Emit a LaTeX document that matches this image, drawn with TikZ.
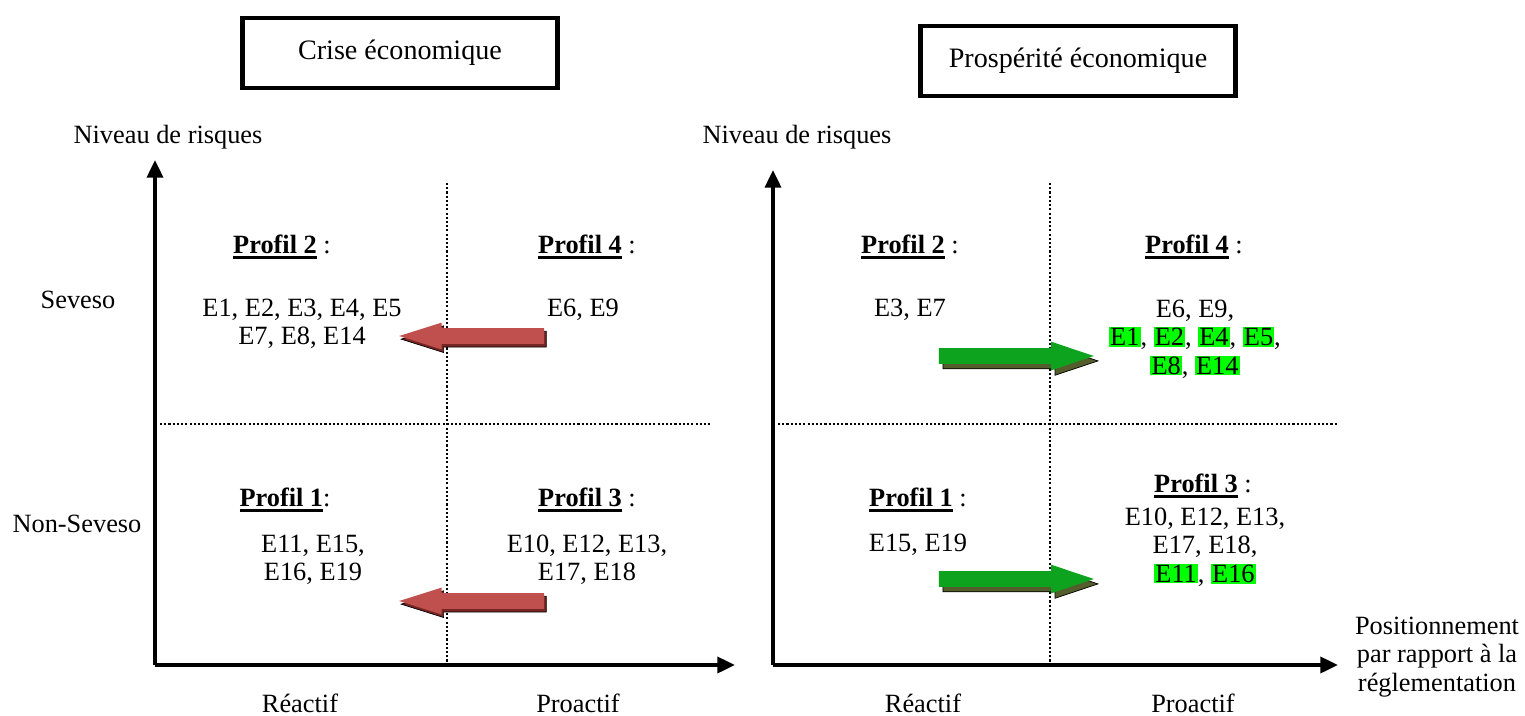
\documentclass[tikz,border=0pt]{standalone}
\usepackage{fontspec}
\setmainfont{Liberation Serif}
\usetikzlibrary{arrows.meta,shapes.arrows,shadows}

\definecolor{crisered}{RGB}{192,80,77}
\definecolor{criseshadow}{RGB}{120,38,36}
\definecolor{prosgreen}{RGB}{14,163,30}
\definecolor{prosshadow}{RGB}{84,94,44}
\definecolor{hlgreen}{RGB}{0,255,0}

\newcommand{\profil}[1]{\setbox0\hbox{\textbf{#1}}\rlap{\rule[-3pt]{\wd0}{1.4pt}}\box0\relax}
\newcommand{\hlE}[1]{{\setlength{\fboxsep}{0.6pt}\colorbox{hlgreen}{#1}}}

\begin{document}
\begin{tikzpicture}[x=0.02cm, y=-0.02cm, font=\fontsize{15}{16.2}\selectfont,
  titlebox/.style={draw, line width=2.8pt, minimum width=6.3cm, minimum height=1.4cm, font=\fontsize{16}{19}\selectfont},
  axis/.style={line width=2.2pt, -{Triangle[length=10pt,width=9pt]}},
  divider/.style={line width=1.2pt, dash pattern=on 1.2pt off 1.2pt},
  redarrow/.style={single arrow, fill=crisered, inner xsep=0pt, inner ysep=0.15cm, minimum height=2.9cm,
    single arrow head extend=0.11cm, single arrow tip angle=35, shape border rotate=180, anchor=tip,
    copy shadow={fill=criseshadow, shadow xshift=1.2pt, shadow yshift=-1.8pt}},
  greenarrow/.style={single arrow, fill=prosgreen, inner xsep=0pt, inner ysep=0.15cm, minimum height=3.1cm,
    single arrow head extend=0.13cm, single arrow tip angle=37, anchor=tip,
    copy shadow={fill=prosshadow, shadow xshift=2.3pt, shadow yshift=-2.8pt}}]

\useasboundingbox (0,0) rectangle (1525,716);

\node[titlebox] (crise) at (400,53) {Crise économique};
\node[titlebox] (prosp) at (1078,61) {Prospérité économique};


\coordinate (o1) at (155,665);
\coordinate (ytop1) at (155,160);
\coordinate (xend1) at (735,665);
\draw[axis] (o1) -- (ytop1);
\draw[axis] (o1) -- (xend1);
\coordinate (vtop1) at (447,183);
\coordinate (vbot1) at (447,665);
\coordinate (hleft1) at (160,424);
\coordinate (hright1) at (710,424);
\draw[divider] (vtop1) -- (vbot1);
\draw[divider] (hleft1) -- (hright1);

\node (niv1) at (168,137) {Niveau de risques};
\node (seveso) at (78,300) {Seveso};
\node (nonsev) at (77,524) {Non-Seveso};
\node (react1) at (300,703) {Réactif};
\node (proact1) at (578,703) {Proactif};

\node (p2g) at (282,247) {\profil{Profil 2} :};
\node[align=center] (e2g) at (302,324) {E1, E2, E3, E4, E5\\E7, E8, E14};
\node (p4g) at (587,247) {\profil{Profil 4} :};
\node (e4g) at (583,310) {E6, E9};
\node (p1g) at (285,500) {\profil{Profil 1}:};
\node[align=center] (e1g) at (313,560) {E11, E15,\\E16, E19};
\node (p3g) at (587,500) {\profil{Profil 3} :};
\node[align=center] (e3g) at (587,560) {E10, E12, E13,\\E17, E18};

\node[redarrow] (flee1) at (398,336) {};
\node[redarrow] (flee2) at (398,601) {};


\coordinate (o2) at (773,665);
\coordinate (ytop2) at (773,170);
\coordinate (xend2) at (1338,665);
\draw[axis] (o2) -- (ytop2);
\draw[axis] (o2) -- (xend2);
\coordinate (vtop2) at (1050,183);
\coordinate (vbot2) at (1050,665);
\coordinate (hleft2) at (778,424);
\coordinate (hright2) at (1338,424);
\draw[divider] (vtop2) -- (vbot2);
\draw[divider] (hleft2) -- (hright2);

\node (niv2) at (797,137) {Niveau de risques};
\node (react2) at (923,703) {Réactif};
\node (proact2) at (1193,703) {Proactif};
\node[align=center] (posit) at (1437,657) {Positionnement\\par rapport à la\\réglementation};

\node (p2d) at (910,247) {\profil{Profil 2} :};
\node (e2d) at (910,310) {E3, E7};
\node (p4d) at (1194,247) {\profil{Profil 4} :};
\node[align=center] (e4d) at (1195,339) {E6, E9,\\\hlE{E1}, \hlE{E2}, \hlE{E4}, \hlE{E5},\\\hlE{E8}, \hlE{E14}};
\node (p1d) at (918,500) {\profil{Profil 1} :};
\node (e1d) at (918,545) {E15, E19};
\node (p3d) at (1203,486) {\profil{Profil 3} :};
\node[align=center] (e3d) at (1205,547) {E10, E12, E13,\\E17, E18,\\\hlE{E11}, \hlE{E16}};

\node[greenarrow] (gain1) at (1095,356) {};
\node[greenarrow] (gain2) at (1095,579) {};

\end{tikzpicture}
\end{document}
